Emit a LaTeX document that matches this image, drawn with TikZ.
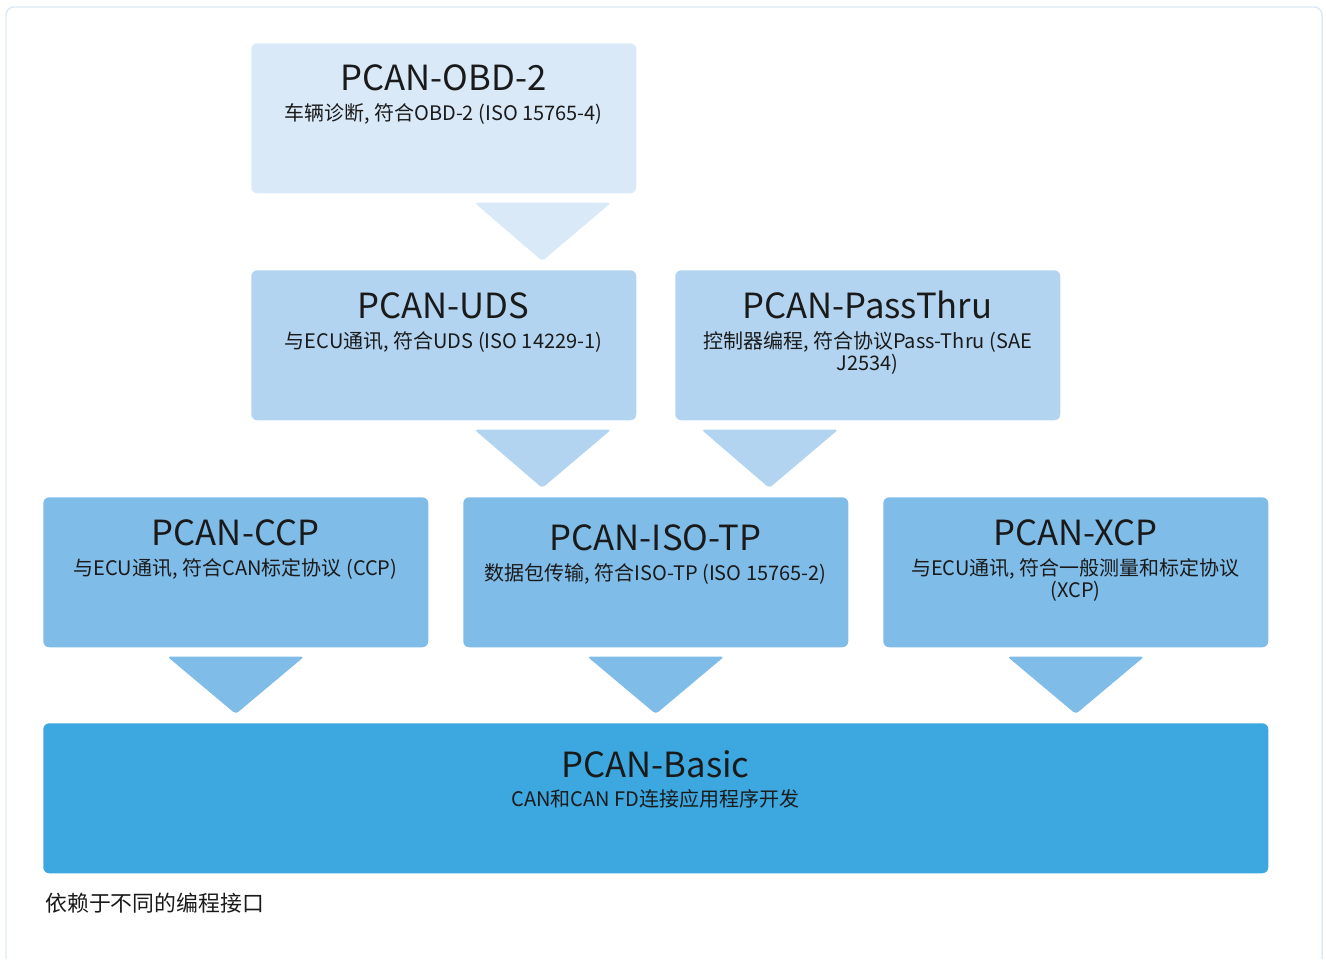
\documentclass[tikz,border=0pt]{standalone}
\usepackage{fontspec}
\setmainfont{Noto Sans CJK SC}
\usetikzlibrary{calc}
\definecolor{frameline}{HTML}{DDE9F6}
\definecolor{levelone}{HTML}{DAE9F8}
\definecolor{leveltwo}{HTML}{B2D4F0}
\definecolor{levelthree}{HTML}{80BCE8}
\definecolor{levelbase}{HTML}{3DA8DF}
\definecolor{textdark}{HTML}{1A1A1A}

\begin{document}
\begin{tikzpicture}[x=0.75pt,y=-0.75pt]
\tikzset{
    layer/.style={
              rectangle,
                   rounded corners=4.5pt,
                   minimum width=288.75pt,
                   minimum height=112.5pt,
                   anchor=north west,
                   inner sep=0pt
    },
    title/.style={
              anchor=base,
                   inner sep=0pt,
                   text=textdark,
                   font=\fontsize{26pt}{31pt}\selectfont
    },
    subtitle/.style={
              anchor=base,
                   inner sep=0pt,
                   align=center,
                   text=textdark,
                   font=\fontsize{15pt}{16.5pt}\selectfont
    },
    flow/.style={
              rounded corners=2.5pt
    }
}
    \useasboundingbox (0,0) rectangle (1326,959);
    \draw[frameline, line width=1.1pt, rounded corners=6pt] (6,959) -- (6,7) -- (1322,7) -- (1322,959);

    \node (obd)[layer, fill=levelone] at (251,43) {};
    \node (uds)[layer, fill=leveltwo] at (251,270) {};
    \node (pass)[layer, fill=leveltwo] at (675,270) {};
    \node (ccp)[layer, fill=levelthree] at (43,497) {};
    \node (iso)[layer, fill=levelthree] at (463,497) {};
    \node (xcp)[layer, fill=levelthree] at (883,497) {};
    \node (basic)[layer, fill=levelbase, minimum width=918.75pt] at (43,723) {};

    \node (obdT)[title] at (443.5,91) {PCAN-OBD-2};
    \node (obdS)[subtitle] at (443.5,121) {车辆诊断, 符合OBD-2 (ISO 15765-4)};
    \node (udsT)[title] at (443.5,318) {PCAN-UDS};
    \node (udsS)[subtitle] at (443.5,348) {与ECU通讯, 符合UDS (ISO 14229-1)};
    \node (passT)[title] at (867.5,318) {PCAN-PassThru};
    \node (passS)[subtitle] at (867.5,370) {控制器编程, 符合协议Pass-Thru (SAE\\J2534)};
    \node (ccpT)[title] at (235.5,545) {PCAN-CCP};
    \node (ccpS)[subtitle] at (235.5,575) {与ECU通讯, 符合CAN标定协议 (CCP)};
    \node (isoT)[title] at (655.5,550) {PCAN-ISO-TP};
    \node (isoS)[subtitle] at (655.5,580) {数据包传输, 符合ISO-TP (ISO 15765-2)};
    \node (xcpT)[title] at (1075.5,545) {PCAN-XCP};
    \node (xcpS)[subtitle] at (1075.5,597) {与ECU通讯, 符合一般测量和标定协议\\(XCP)};
    \node (basicT)[title] at (655.5,777) {PCAN-Basic};
    \node (basicS)[subtitle] at (655.5,806) {CAN和CAN FD连接应用程序开发};
    \node (note)[anchor=base west, inner sep=0pt, text=textdark, font=\fontsize{16.4pt}{19pt}\selectfont] at (45,911) {依赖于不同的编程接口};

    \fill[flow, levelone] ($(obd.south)+(30.5,9)$) -- ($(obd.south)+(167.5,9)$) -- ($(uds.north)+(98.5,-9)$) -- cycle;
    \fill[flow, leveltwo] ($(uds.south)+(30.5,9)$) -- ($(uds.south)+(167.5,9)$) -- ($(iso.north)+(-113.5,-9)$) -- cycle;
    \fill[flow, leveltwo] ($(pass.south)+(-166.5,9)$) -- ($(pass.south)+(-29.5,9)$) -- ($(iso.north)+(113.5,-9)$) -- cycle;
    \fill[flow, levelthree] ($(ccp.south)+(-68.5,9)$) -- ($(ccp.south)+(68.5,9)$) -- ($(ccp.south |- basic.north)+(0,-9)$) -- cycle;
    \fill[flow, levelthree] ($(iso.south)+(-68.5,9)$) -- ($(iso.south)+(68.5,9)$) -- ($(iso.south |- basic.north)+(0,-9)$) -- cycle;
    \fill[flow, levelthree] ($(xcp.south)+(-68.5,9)$) -- ($(xcp.south)+(68.5,9)$) -- ($(xcp.south |- basic.north)+(0,-9)$) -- cycle;

\end{tikzpicture}
\end{document}
